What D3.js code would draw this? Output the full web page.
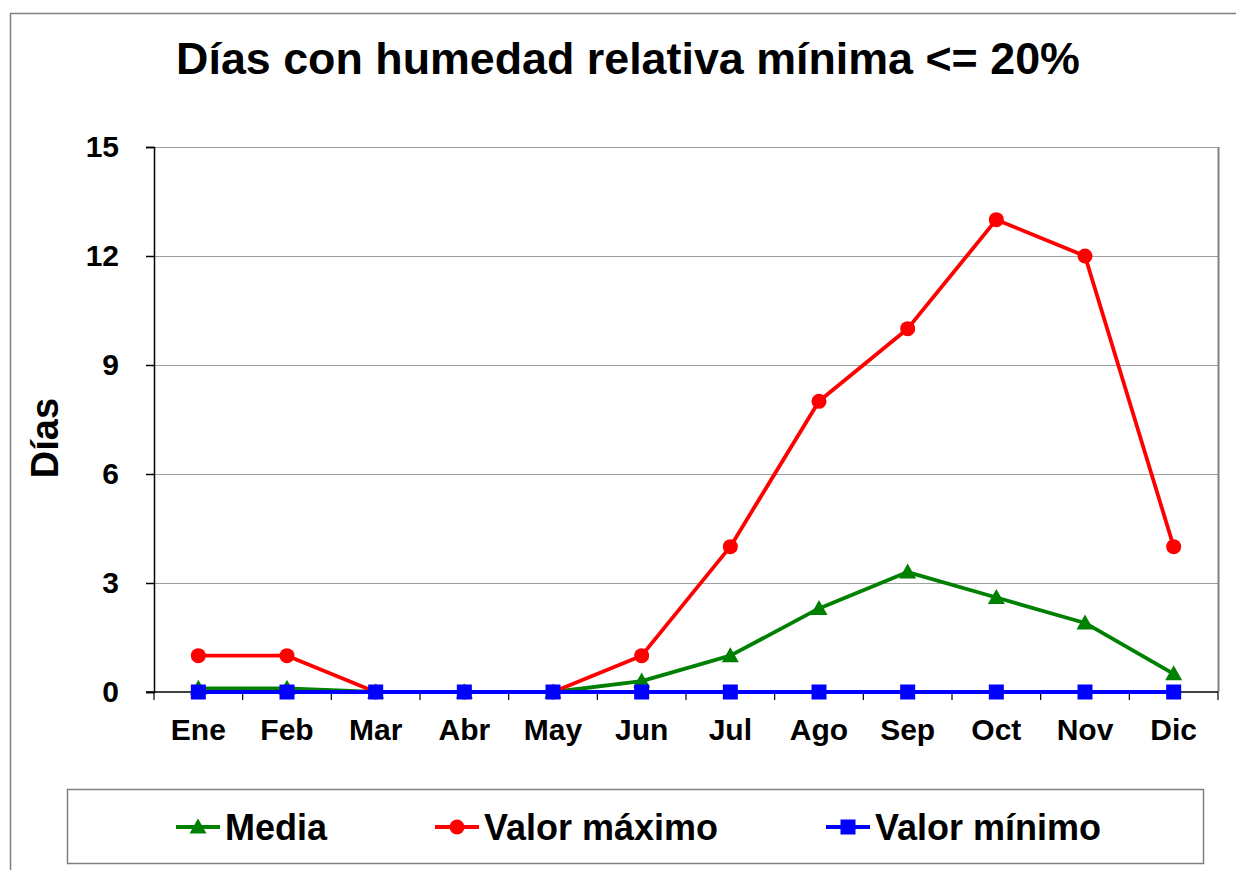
<!DOCTYPE html>
<html>
<head>
<meta charset="utf-8">
<script src="https://cdnjs.cloudflare.com/ajax/libs/d3/7.8.5/d3.min.js"></script>
<style>
body { margin: 0; background: #fff; }
text { font-family: "Liberation Sans", Arial, sans-serif; font-weight: bold; fill: #000; }
</style>
</head>
<body>
<div id="chart"></div>
<script>
var months = ['Ene','Feb','Mar','Abr','May','Jun','Jul','Ago','Sep','Oct','Nov','Dic'];
var media = [0.1, 0.1, 0, 0, 0, 0.3, 1.0, 2.3, 3.3, 2.6, 1.9, 0.5];
var valorMax = [1, 1, 0, 0, 0, 1, 4, 8, 10, 13, 12, 4];
var valorMin = [0, 0, 0, 0, 0, 0, 0, 0, 0, 0, 0, 0];
var yTicks = [0, 3, 6, 9, 12, 15];

var W = 1236, H = 870;
var plot = {left: 154, top: 147, right: 1218, bottom: 692};

var svg = d3.select('#chart').append('svg')
    .attr('width', W).attr('height', H);

// outer chart border (runs off the right and bottom of the picture)
svg.append('path')
    .attr('d', 'M10.5,' + (H + 5) + 'V13.5H' + (W + 5))
    .attr('fill', 'none').attr('stroke', '#808080').attr('stroke-width', 1.5);

// title
svg.append('text')
    .attr('x', 628).attr('y', 74)
    .attr('text-anchor', 'middle')
    .style('font-size', '44.8px')
    .text('Días con humedad relativa mínima <= 20%');

var x = d3.scaleBand().domain(months).range([plot.left, plot.right]);
var y = d3.scaleLinear().domain([0, 15]).range([plot.bottom, plot.top]);

function cx(d, i) { return x(months[i]) + x.bandwidth() / 2; }

// gridlines
svg.append('g').selectAll('line').data(yTicks.filter(function(t) { return t > 0; }))
    .enter().append('line')
    .attr('x1', plot.left).attr('x2', plot.right)
    .attr('y1', function(d) { return Math.round(y(d)) + 0.5; })
    .attr('y2', function(d) { return Math.round(y(d)) + 0.5; })
    .attr('stroke', '#a0a0a0').attr('stroke-width', 1);

// right border of plot area
svg.append('line')
    .attr('x1', plot.right + 0.5).attr('x2', plot.right + 0.5)
    .attr('y1', plot.top).attr('y2', plot.bottom)
    .attr('stroke', '#808080').attr('stroke-width', 2);

// y axis
var yAxis = svg.append('g')
    .attr('transform', 'translate(' + plot.left + ',0)')
    .call(d3.axisLeft(y).tickValues(yTicks).tickSize(8).tickPadding(27));
yAxis.select('.domain').attr('stroke', '#000').attr('stroke-width', 1.5);
yAxis.selectAll('.tick line').attr('stroke', '#000').attr('stroke-width', 1.5);
yAxis.selectAll('text').style('font-size', '30px').attr('fill', '#000')
    .style('font-family', '"Liberation Sans", Arial, sans-serif').style('font-weight', 'bold');

// x axis, ticks sit between categories
var xAxis = svg.append('g')
    .attr('transform', 'translate(0,' + plot.bottom + ')');
xAxis.append('line')
    .attr('x1', plot.left - 8).attr('x2', plot.right)
    .attr('y1', 0).attr('y2', 0)
    .attr('stroke', '#000').attr('stroke-width', 1.5);
xAxis.selectAll('.xt').data(d3.range(months.length + 1)).enter().append('line')
    .attr('class', 'xt')
    .attr('x1', function(i) { return plot.left + i * x.bandwidth(); })
    .attr('x2', function(i) { return plot.left + i * x.bandwidth(); })
    .attr('y1', 0).attr('y2', 8)
    .attr('stroke', '#000').attr('stroke-width', 1.2);
xAxis.selectAll('.xl').data(months).enter().append('text')
    .attr('class', 'xl')
    .attr('x', function(d) { return x(d) + x.bandwidth() / 2; })
    .attr('y', 48)
    .attr('text-anchor', 'middle')
    .style('font-size', '30px')
    .text(function(d) { return d; });

// y axis title
svg.append('text')
    .attr('transform', 'translate(58,438) rotate(-90)')
    .attr('text-anchor', 'middle')
    .style('font-size', '38px')
    .text('Días');

// series
var series = [
    {name: 'Media', values: media, color: '#008000', shape: 'triangle'},
    {name: 'Valor máximo', values: valorMax, color: '#ff0000', shape: 'circle'},
    {name: 'Valor mínimo', values: valorMin, color: '#0000ff', shape: 'square'}
];

function drawMarker(g, shape, color) {
    if (shape === 'circle') {
        g.append('circle').attr('r', 7.5).attr('fill', color);
    } else if (shape === 'square') {
        g.append('rect').attr('x', -7.5).attr('y', -7.5).attr('width', 15).attr('height', 15).attr('fill', color);
    } else {
        g.append('path').attr('d', 'M0,-8.5L8.5,6.5L-8.5,6.5Z').attr('fill', color);
    }
}

var line = d3.line().x(cx).y(function(d) { return y(d); });

series.forEach(function(s) {
    var g = svg.append('g');
    g.append('path').datum(s.values)
        .attr('d', line)
        .attr('fill', 'none').attr('stroke', s.color).attr('stroke-width', 3.8)
        .attr('stroke-linejoin', 'round');
    g.selectAll('g').data(s.values).enter().append('g')
        .attr('transform', function(d, i) { return 'translate(' + cx(d, i) + ',' + y(d) + ')'; })
        .each(function() { drawMarker(d3.select(this), s.shape, s.color); });
});

// legend
svg.append('rect')
    .attr('x', 67.5).attr('y', 789.5).attr('width', 1136).attr('height', 74)
    .attr('fill', '#fff').attr('stroke', '#808080').attr('stroke-width', 1.5);

var legX = [176, 435, 826];
series.forEach(function(s, i) {
    var lg = svg.append('g').attr('transform', 'translate(' + legX[i] + ',827)');
    lg.append('line').attr('x1', 0).attr('x2', 44).attr('y1', 0).attr('y2', 0)
        .attr('stroke', s.color).attr('stroke-width', 3.8);
    var m = lg.append('g').attr('transform', 'translate(22,0)');
    drawMarker(m, s.shape, s.color);
    lg.append('text').attr('x', 49).attr('y', 12.5)
        .style('font-size', '36px')
        .text(s.name);
});
</script>
</body>
</html>
